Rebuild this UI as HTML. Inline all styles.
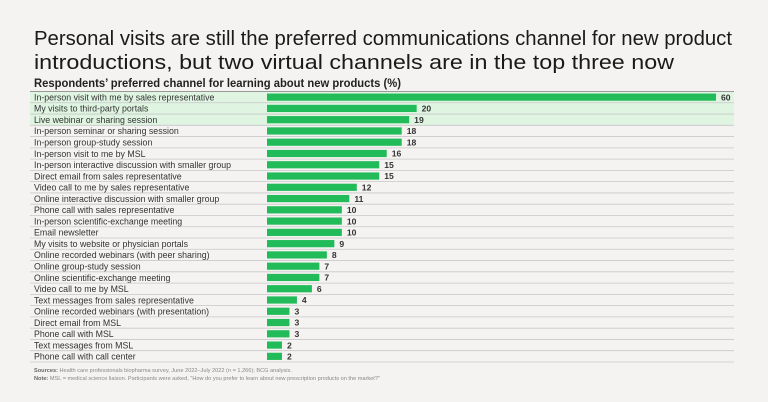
<!DOCTYPE html>
<html><head><meta charset="utf-8"><style>
html,body{margin:0;padding:0;background:#f4f3f1;}
svg{display:block;font-family:"Liberation Sans",sans-serif;}
</style></head><body>
<svg id="chart" width="768" height="402" viewBox="0 0 768 402" xmlns="http://www.w3.org/2000/svg">
<rect x="0" y="0" width="768" height="402" fill="#f4f3f1"/>
<text x="34" y="45" font-size="20" fill="#1a1a1a" textLength="698" lengthAdjust="spacingAndGlyphs">Personal visits are still the preferred communications channel for new product</text>
<text x="34" y="69" font-size="20" fill="#1a1a1a" textLength="640" lengthAdjust="spacingAndGlyphs">introductions, but two virtual channels are in the top three now</text>
<text x="34" y="87" font-size="11.5" font-weight="bold" fill="#222" textLength="367" lengthAdjust="spacingAndGlyphs">Respondents’ preferred channel for learning about new products (%)</text>
<g id="rows"></g>
<text x="34" y="372" font-size="5.6" fill="#888"><tspan font-weight="bold" fill="#666">Sources:</tspan> Health care professionals biopharma survey, June 2022–July 2022 (n = 1,266); BCG analysis.</text>
<text x="34" y="380" font-size="5.6" fill="#888"><tspan font-weight="bold" fill="#666">Note:</tspan> MSL = medical science liaison. Participants were asked, "How do you prefer to learn about new prescription products on the market?"</text>
</svg>
<script>
const categories = ["In-person visit with me by sales representative","My visits to third-party portals","Live webinar or sharing session","In-person seminar or sharing session","In-person group-study session","In-person visit to me by MSL","In-person interactive discussion with smaller group","Direct email from sales representative","Video call to me by sales representative","Online interactive discussion with smaller group","Phone call with sales representative","In-person scientific-exchange meeting","Email newsletter","My visits to website or physician portals","Online recorded webinars (with peer sharing)","Online group-study session","Online scientific-exchange meeting","Video call to me by MSL","Text messages from sales representative","Online recorded webinars (with presentation)","Direct email from MSL","Phone call with MSL","Text messages from MSL","Phone call with call center"];
const values = [60,20,19,18,18,16,15,15,12,11,10,10,10,9,8,7,7,6,4,3,3,3,2,2];
const highlighted = [0,1,2];
(function(){
const NS="http://www.w3.org/2000/svg";
const g=document.getElementById('rows');
const x0=267, xMax=716, vMax=60, topY=91.5, rh=11.27, left=30, right=734;
function xs(v){return x0+(v/vMax)*(xMax-x0);}
function ys(i){return topY+i*rh;}
function mk(t,a){const e=document.createElementNS(NS,t);for(const k in a)e.setAttribute(k,a[k]);return e;}
categories.forEach((c,i)=>{
  const y=ys(i);
  if(highlighted.includes(i)){
    const h=mk('rect',{x:left,y:y,width:right-left,height:rh,fill:'#dff5e1'});
    
    
    g.appendChild(h);
  }
  const ln=mk('line',{x1:left,x2:right,y1:y,y2:y,stroke:i==0?'#999':'#c8c8c8','stroke-width':i==0?1:0.8});
  
  
  g.appendChild(ln);
  const t=mk('text',{x:34,y:y+rh/2+3.3,'font-size':8.8,fill:'#333'});
  t.textContent=c;
  
  
  g.appendChild(t);
  const b=mk('rect',{x:x0,y:y+rh/2-3.6,width:xs(values[i])-x0,height:7.2,fill:'#22bb5a'});
  
  
  g.appendChild(b);
  const v=mk('text',{x:xs(values[i])+5,y:y+rh/2+3.2,'font-size':8.6,'font-weight':'bold',fill:'#333'});
  v.textContent=values[i];
  
  
  g.appendChild(v);
});
const last=mk('line',{x1:left,x2:right,y1:ys(categories.length),y2:ys(categories.length),stroke:'#c8c8c8','stroke-width':0.8});


g.appendChild(last);
})();
</script>
</body></html>
